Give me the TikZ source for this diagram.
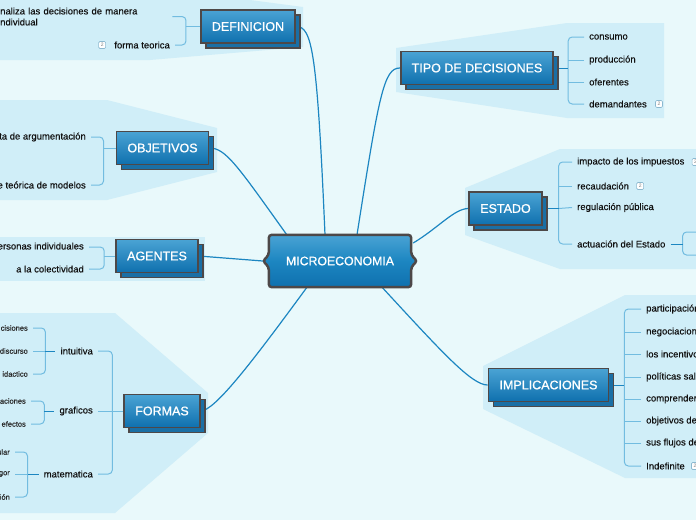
\documentclass[tikz,border=0pt]{standalone}
\usepackage{fontspec}
\setmainfont{Liberation Sans}
\newfontfamily\medfont[FakeBold=0.9]{Liberation Sans}
\newfontfamily\lblfont[FakeBold=0.35]{Liberation Sans}
\usetikzlibrary{calc,shadows}
\definecolor{bgc}{HTML}{E9F9FB}
\definecolor{reg}{HTML}{D0EEF8}
\definecolor{conn}{HTML}{1C86C1}
\definecolor{brk}{HTML}{72BCE0}
\definecolor{bord}{HTML}{4D4848}
\definecolor{btop}{HTML}{4AA3D4}
\definecolor{bbot}{HTML}{0F70AE}
\definecolor{sdw}{HTML}{1A6FA5}
\definecolor{txt}{HTML}{111111}
\definecolor{txtb}{HTML}{2A2A2A}
\definecolor{bdg}{HTML}{8CB9D0}
\pgfdeclarelayer{bg}
\pgfsetlayers{bg,main}
\tikzset{
  branch/.style={draw=bord, line width=1.8pt, top color=btop, bottom color=bbot,
    text=white, font=\medfont\fontsize{12.5}{14}\selectfont, inner xsep=11pt, inner ysep=0pt,
    minimum height=33pt,
    general shadow={shadow xshift=5pt, shadow yshift=-5pt, fill=sdw, draw=bord, line width=1.8pt}},
  lbl/.style={font=\lblfont\fontsize{9.5}{11}\selectfont, text=txt, inner xsep=5pt, inner ysep=1pt},
  sml/.style={font=\lblfont\fontsize{7.5}{9}\selectfont, text=txtb, inner xsep=5pt, inner ysep=1pt},
  badge/.style={draw=bdg, fill=white, rounded corners=1.2pt, minimum width=7pt,
    minimum height=7pt, inner sep=0pt, font=\fontsize{5}{5}\selectfont, text=gray, line width=0.6pt},
  cn/.style={draw=conn, line width=1.2pt},
  arm/.style={draw=conn, line width=1pt},
  br/.style={draw=brk, line width=1pt, rounded corners=4pt},
}
\begin{document}
\begin{tikzpicture}[x=1pt,y=-1pt]
\useasboundingbox (0,0) rectangle (696,520);
\clip (0,0) rectangle (696,520);

% ---------- branch nodes ----------
\node[text=white, font=\medfont\fontsize{12.3}{14}\selectfont, minimum width=142pt, minimum height=52pt, inner sep=0pt] (M) at (340,261) {MICROECONOMIA};
\node[branch] (D) at (248,26.5) {DEFINICION};
\node[branch] (T) at (477,68) {TIPO DE DECISIONES};
\node[branch] (O) at (162.5,148) {OBJETIVOS};
\node[branch] (E) at (505.5,208.5) {ESTADO};
\node[branch] (A) at (157,256) {AGENTES};
\node[branch] (I) at (548.5,385) {IMPLICACIONES};
\node[branch] (F) at (162,411) {FORMAS};

% ---------- DEFINICION children ----------
\node[lbl, anchor=west, align=left, text width=172pt, inner sep=0pt] (d1) at (0,16.5) {naliza las decisiones de manera\\ndividual};
\node[lbl, anchor=east] (d2) at (175,45) {forma teorica};
\node[badge] (b1) at ($(d2.west)+(-7,0)$) {2};

% ---------- OBJETIVOS children ----------
\node[lbl, anchor=east] (o1) at (91,137) {ta de argumentación};
\node[lbl, anchor=east] (o2) at (91,185) {e teórica de modelos};

% ---------- AGENTES children ----------
\node[lbl, anchor=east] (a1) at (89,247) {personas individuales};
\node[lbl, anchor=east] (a2) at (89,269) {a la colectividad};

% ---------- FORMAS children ----------
\node[lbl, anchor=east] (f1) at (98,351) {intuitiva};
\node[lbl, anchor=east] (f2) at (98,411) {graficos};
\node[lbl, anchor=east] (f3) at (98,474) {matematica};
\node[sml, anchor=east] (g1) at (33,328) {cisiones};
\node[sml, anchor=east] (g2) at (33,351) {discurso};
\node[sml, anchor=east] (g3) at (33,374) {idactico};
\node[sml, anchor=east] (h1) at (31,401) {aciones};
\node[sml, anchor=east] (h2) at (31,424) {efectos};
\node[sml, anchor=east] (k1) at (15,452) {ular};
\node[sml, anchor=east] (k2) at (15,474) {gor};
\node[sml, anchor=east] (k3) at (15,497) {ión};

% ---------- TIPO children ----------
\node[lbl, anchor=west] (t1) at (584,37) {consumo};
\node[lbl, anchor=west] (t2) at (584,60) {producción};
\node[lbl, anchor=west] (t3) at (584,82) {oferentes};
\node[lbl, anchor=west] (t4) at (584,104) {demandantes};
\node[badge] (b2) at ($(t4.east)+(7,0)$) {2};

% ---------- ESTADO children ----------
\node[lbl, anchor=west] (e1) at (572,162) {impacto de los impuestos};
\node[lbl, anchor=west] (e2) at (572,186) {recaudación};
\node[lbl, anchor=west] (e3) at (572,207.5) {regulación pública};
\node[lbl, anchor=west] (e4) at (572,244) {actuación del Estado};
\node[badge] (b3) at ($(e2.east)+(6,0)$) {2};
\node[badge] (b4) at ($(e1.east)+(6,0)$) {2};
\coordinate (c1) at (702,232);
\coordinate (c2) at (702,255);

% ---------- IMPLICACIONES children ----------
\node[lbl, anchor=west] (i1) at (641,309) {participación};
\node[lbl, anchor=west] (i2) at (641,332) {negociaciones};
\node[lbl, anchor=west] (i3) at (641,354) {los incentivos};
\node[lbl, anchor=west] (i4) at (641,377) {políticas salariales};
\node[lbl, anchor=west] (i5) at (641,399) {comprender};
\node[lbl, anchor=west] (i6) at (641,421) {objetivos de};
\node[lbl, anchor=west] (i7) at (641,443) {sus flujos de};
\node[lbl, anchor=west] (i8) at (641,466) {Indefinite};
\node[badge] (b5) at ($(i8.east)+(5,0)$) {2};

\begin{pgfonlayer}{bg}
\fill[bgc] (0,0) rectangle (696,520);
% regions
\fill[reg] (-2,-2) -- (235,-2) -- (303,7) -- (303,47) -- (150,60) -- (-2,60) -- cycle;
\fill[reg] (-2,100) -- (107,100) -- (217,128) -- (217,172) -- (107,200) -- (-2,200) -- cycle;
\fill[reg] (-2,237) rectangle (205,281);
\fill[reg] (-2,313) -- (115,313) -- (208,393) -- (208,433) -- (115,513) -- (-2,513) -- cycle;
\fill[reg] (396,48) -- (567,23) -- (664,23) -- (664,118) -- (567,118) -- (396,92) -- cycle;
\fill[reg] (465,188) -- (560,149) -- (702,149) -- (702,269) -- (560,269) -- (465,235) -- cycle;
\fill[reg] (483,366) -- (625,295) -- (702,295) -- (702,478) -- (625,478) -- (483,409) -- cycle;

% main connectors
\draw[cn] ($(M.north)+(-15,0)$) .. controls +(-8,-185) and +(16,0) .. (D.east);
\draw[cn] ($(M.north)+(17,0)$) .. controls +(22,-140) and +(-16,0) .. (T.west);
\draw[cn] ($(M.north west)+(18,0)$) .. controls +(-50,-70) and +(16,0) .. (O.east);
\draw[cn] ($(M.west)+(-6,0)$) -- (A.east);
\draw[cn] ($(M.east)+(2,-18)$) .. controls +(25,-15) and +(-14,0) .. (E.west);
\draw[cn] ($(M.south)+(42,0)$) .. controls +(60,65) and +(-16,0) .. (I.west);
\draw[cn] ($(M.south)+(-33,0)$) .. controls +(-55,75) and +(14,0) .. (F.east);

% brackets: DEFINICION
\draw[br] (d1.east) -| ($(D.west)+(-14,0)$) |- (d2.east);
\draw[br] ($(D.west)+(-14,0)$) -- (D.west);
% OBJETIVOS
\draw[br] (o1.east) -| ($(O.west)+(-12,0)$) |- (o2.east);
\draw[br] ($(O.west)+(-12,0)$) -- (O.west);
% AGENTES
\draw[br] (a1.east) -| ($(A.west)+(-11,0)$) |- (a2.east);
\draw[br] ($(A.west)+(-11,0)$) -- (A.west);
% FORMAS
\draw[br] (f1.east) -| ($(F.west)+(-11,0)$) |- (f3.east);
\draw[br] (f2.east) -- (F.west);
\draw[br] (g1.east) -| ($(f1.west)+(-10,0)$) |- (g3.east);
\draw[br] (g2.east) -- ($(f1.west)+(-10,0)$);
\draw[arm] ($(f1.west)+(-10,0)$) -- (f1.west);
\draw[br] (h1.east) -| ($(f2.west)+(-10,0)$) |- (h2.east);
\draw[arm] ($(f2.west)+(-10,0)$) -- (f2.west);
\draw[br] (k1.east) -| ($(f3.west)+(-11,0)$) |- (k3.east);
\draw[br] (k2.east) -- ($(f3.west)+(-11,0)$);
\draw[arm] ($(f3.west)+(-11,0)$) -- (f3.west);
% TIPO
\draw[br] (t1.west) -| ($(T.east)+(14,0)$) |- (t4.west);
\draw[br] (t2.west) -- (t2.west -| {$(T.east)+(14,0)$});
\draw[br] (t3.west) -- (t3.west -| {$(T.east)+(14,0)$});
\draw[arm] (T.east) -- ($(T.east)+(14,0)$);
% ESTADO
\draw[br] (e1.west) -| ($(E.east)+(16,0)$) |- (e4.west);
\draw[br] (e2.west) -- (e2.west -| {$(E.east)+(16,0)$});
\draw[br] (e3.west) -- ($(E.east)+(16,0)$);
\draw[arm] (E.east) -- ($(E.east)+(16,0)$);
\draw[br] (c1) -| ($(e4.east)+(12,0)$) |- (c2);
\draw[arm] (e4.east) -- ($(e4.east)+(12,0)$);
% IMPLICACIONES
\draw[br] (i1.west) -| ($(I.east)+(15,0)$) |- (i8.west);
\foreach \n in {i2,i3,i4,i5,i6,i7}{
  \draw[br] (\n.west) -- (\n.west -| {$(I.east)+(15,0)$});
}
\draw[arm] (I.east) -- ($(I.east)+(15,0)$);

% central shape
\draw[draw=bord, line width=2.5pt, rounded corners=3pt, top color=btop, bottom color=bbot, middle color=conn]
  (M.north west) -- (M.north east) -- ($(M.east)+(0,-6)$) -- ($(M.east)+(6,0)$) -- ($(M.east)+(0,6)$)
  -- (M.south east) -- (M.south west) -- ($(M.west)+(0,6)$) -- ($(M.west)+(-6,0)$) -- ($(M.west)+(0,-6)$) -- cycle;
\end{pgfonlayer}
\end{tikzpicture}
\end{document}
